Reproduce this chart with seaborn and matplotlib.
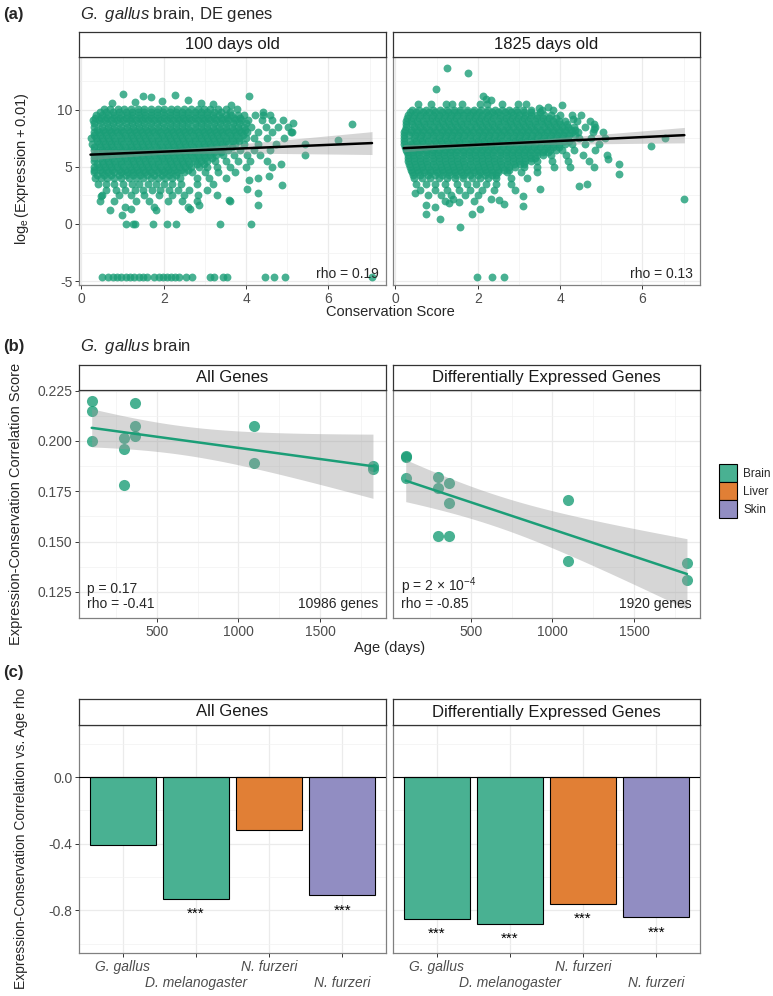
import numpy as np
import pandas as pd
import matplotlib
matplotlib.use('Agg')
import matplotlib.pyplot as plt
import seaborn as sns
from matplotlib.patches import Patch
from matplotlib.ticker import FormatStrFormatter

# ---------------- data ----------------
# (a) G. gallus brain, DE genes: conservation score vs log_e(expression + 0.01)
# points: (y, [x, ...])
young_rows = [
    (10.05, [0.55, 0.7, 0.88, 1.04, 1.2, 1.37, 1.52, 1.69, 1.85, 2.01, 2.17, 2.33, 2.5, 2.65, 2.82, 2.98, 3.13, 3.31, 3.52, 3.78]),
    (9.8, [0.45, 0.6, 0.76, 0.92, 1.07, 1.22, 1.38, 1.53, 1.68, 1.84, 1.99, 2.14, 2.3, 2.45, 2.6, 2.76, 2.91, 3.06, 3.22, 3.4, 3.6]),
    (9.55, [0.35, 0.5, 0.64, 0.8, 0.95, 1.1, 1.24, 1.4, 1.55, 1.7, 1.84, 2.0, 2.15, 2.3, 2.44, 2.6, 2.75, 2.9, 3.04, 3.2, 3.35, 3.5, 3.64, 3.8, 3.96, 4.22, 4.4, 4.58]),
    (9.3, [0.32, 0.47, 0.62, 0.78, 0.93, 1.08, 1.24, 1.39, 1.54, 1.7, 1.85, 2.0, 2.16, 2.31, 2.46, 2.62, 2.77, 2.92, 3.08, 3.23, 3.38, 3.54, 3.7, 3.86]),
    (9.05, [0.28, 0.42, 0.57, 0.72, 0.87, 1.02, 1.17, 1.32, 1.47, 1.62, 1.77, 1.92, 2.07, 2.22, 2.37, 2.52, 2.67, 2.82, 2.97, 3.12, 3.27, 3.42, 3.57, 3.72, 3.88, 4.05, 4.38, 4.62, 4.9]),
    (8.78, [0.3, 0.46, 0.61, 0.76, 0.92, 1.07, 1.22, 1.38, 1.53, 1.68, 1.84, 1.99, 2.14, 2.3, 2.45, 2.6, 2.76, 2.91, 3.06, 3.22, 3.37, 3.52, 3.68, 3.84, 4.0]),
    (8.5, [0.3, 0.5, 0.65, 0.8, 0.95, 1.1, 1.25, 1.4, 1.55, 1.7, 1.85, 2.0, 2.15, 2.3, 2.45, 2.6, 2.75, 2.9, 3.05, 3.2, 3.35, 3.5, 3.65, 3.8, 3.95, 4.12, 4.48, 4.78, 5.02]),
    (8.25, [0.37, 0.52, 0.67, 0.82, 0.97, 1.12, 1.27, 1.42, 1.57, 1.72, 1.87, 2.02, 2.17, 2.32, 2.47, 2.62, 2.77, 2.92, 3.07, 3.22, 3.37, 3.52, 3.67, 3.82, 3.97]),
    (8.0, [0.3, 0.43, 0.57, 0.72, 0.87, 1.02, 1.17, 1.32, 1.47, 1.62, 1.77, 1.92, 2.07, 2.22, 2.37, 2.52, 2.67, 2.82, 2.97, 3.12, 3.27, 3.42, 3.57, 3.72, 3.87, 4.02, 4.3, 4.62, 5.12]),
    (7.75, [0.3, 0.45, 0.6, 0.75, 0.9, 1.05, 1.2, 1.35, 1.5, 1.65, 1.8, 1.95, 2.1, 2.25, 2.4, 2.55, 2.7, 2.85, 3.0, 3.15, 3.3, 3.45, 3.6, 3.75, 3.92]),
    (7.5, [0.22, 0.36, 0.5, 0.65, 0.8, 0.95, 1.1, 1.25, 1.4, 1.55, 1.7, 1.85, 2.0, 2.15, 2.3, 2.45, 2.6, 2.75, 2.9, 3.05, 3.2, 3.35, 3.5, 3.65, 3.82, 4.0, 4.2, 4.52, 4.92]),
    (7.25, [0.37, 0.52, 0.67, 0.82, 0.97, 1.12, 1.27, 1.42, 1.57, 1.72, 1.87, 2.02, 2.17, 2.32, 2.47, 2.62, 2.77, 2.92, 3.07, 3.22, 3.37, 3.52, 3.67, 3.84]),
    (7.0, [0.25, 0.43, 0.57, 0.72, 0.87, 1.02, 1.17, 1.32, 1.47, 1.62, 1.77, 1.92, 2.07, 2.22, 2.37, 2.52, 2.67, 2.82, 2.97, 3.12, 3.27, 3.42, 3.57, 3.74, 3.95, 4.3, 4.72]),
    (6.75, [0.3, 0.45, 0.6, 0.75, 0.9, 1.05, 1.2, 1.35, 1.5, 1.65, 1.8, 1.95, 2.1, 2.25, 2.4, 2.55, 2.7, 2.85, 3.0, 3.15, 3.3, 3.47, 3.66]),
    (6.5, [0.3, 0.5, 0.65, 0.8, 0.95, 1.1, 1.25, 1.4, 1.55, 1.7, 1.85, 2.0, 2.15, 2.3, 2.45, 2.6, 2.75, 2.9, 3.05, 3.2, 3.36, 3.55, 3.86, 4.2, 4.58]),
    (6.25, [0.37, 0.52, 0.67, 0.82, 0.97, 1.12, 1.27, 1.42, 1.57, 1.72, 1.87, 2.02, 2.17, 2.32, 2.47, 2.62, 2.77, 2.92, 3.07, 3.22, 3.4]),
    (6.0, [0.3, 0.43, 0.57, 0.72, 0.87, 1.02, 1.17, 1.32, 1.47, 1.62, 1.77, 1.92, 2.07, 2.22, 2.37, 2.52, 2.67, 2.82, 2.97, 3.12, 3.28, 3.45, 3.7, 4.02, 4.35]),
    (5.75, [0.3, 0.45, 0.6, 0.75, 0.9, 1.05, 1.2, 1.35, 1.5, 1.65, 1.8, 1.95, 2.1, 2.25, 2.4, 2.55, 2.7, 2.85, 3.0, 3.16]),
    (5.5, [0.3, 0.5, 0.65, 0.8, 0.95, 1.1, 1.25, 1.4, 1.55, 1.7, 1.85, 2.0, 2.15, 2.3, 2.45, 2.6, 2.75, 2.9, 3.06, 3.25, 3.5, 3.8, 4.1, 4.5]),
    (5.25, [0.37, 0.52, 0.67, 0.82, 0.97, 1.12, 1.27, 1.42, 1.57, 1.72, 1.87, 2.02, 2.17, 2.32, 2.47, 2.62, 2.8, 2.98]),
    (5.0, [0.3, 0.43, 0.57, 0.72, 0.87, 1.02, 1.17, 1.32, 1.47, 1.62, 1.77, 1.92, 2.07, 2.22, 2.37, 2.52, 2.67, 2.85, 3.05, 3.3, 3.6, 4.0, 4.62]),
    (4.75, [0.3, 0.45, 0.6, 0.75, 0.9, 1.05, 1.2, 1.35, 1.5, 1.65, 1.8, 1.95, 2.1, 2.25, 2.42, 2.6]),
    (4.5, [0.3, 0.5, 0.65, 0.8, 0.95, 1.1, 1.25, 1.4, 1.55, 1.7, 1.85, 2.0, 2.15, 2.32, 2.5, 2.68, 3.0, 3.32, 3.72]),
    (4.25, [0.37, 0.55, 0.72, 0.9, 1.07, 1.25, 1.42, 1.6, 1.77, 1.95, 2.12, 2.3]),
    (4.0, [0.32, 0.47, 0.62, 0.8, 0.97, 1.15, 1.32, 1.5, 1.68, 1.85, 2.02, 2.2, 2.4, 2.8, 3.1, 3.5, 4.3]),
    (3.5, [0.4, 0.6, 0.8, 1.0, 1.22, 1.4, 1.62, 1.8, 2.0, 2.2, 2.42, 2.8, 3.2]),
    (3.0, [0.6, 0.85, 1.05, 1.3, 1.5, 1.72, 1.92, 2.12, 2.35, 2.62, 3.05]),
    (2.5, [0.5, 0.92, 1.2, 1.52, 1.88, 2.2, 2.5, 2.82, 3.3]),
    (2.0, [0.45, 0.8, 1.32, 1.65, 2.1, 2.45, 2.8, 3.62]),
    (1.5, [1.05, 1.76, 2.6]),
    (0.0, [1.09, 1.26, 1.29, 1.73, 2.09, 2.29, 3.37, 4.12]),
    (-4.61, [0.5, 0.64, 0.76, 0.86, 0.96, 1.07, 1.17, 1.27, 1.39, 1.49, 1.59, 1.77, 1.88, 1.97, 2.07,
             2.18, 2.27, 2.38, 2.54, 2.68, 3.12, 3.23, 3.45, 3.54, 4.47, 4.69, 4.95, 7.06]),
]
young_extra_x = [1.0, 1.49, 1.69, 2.28, 4.06, 0.75, 1.3, 1.95, 2.6, 2.9, 3.19, 3.63, 4.4, 5.13, 5.09,
                 5.42, 5.42, 6.23, 6.57, 0.7, 0.99, 1.21, 1.8, 2.63, 2.86, 0.47, 4.06, 4.02, 4.3, 4.3,
                 3.59, 4.87, 4.55, 4.85]
young_extra_y = [11.35, 11.17, 11.1, 11.3, 11.2, 10.6, 10.7, 10.75, 10.8, 10.55, 10.5, 10.4, 9.8, 8.8, 8.06,
                 6.99, 6.03, 7.31, 8.76, 1.22, 0.78, 1.28, 1.22, 1.28, 1.66, 2.42, 3.84, 3.1, 2.7, 1.7,
                 2.07, 3.4, 4.2, 5.25]

old_rows = [
    (10.5, [0.55, 0.86, 1.22, 1.38, 1.62, 2.05, 2.22, 2.58, 2.98, 3.18]),
    (10.0, [0.4, 0.58, 0.75, 0.92, 1.08, 1.25, 1.42, 1.58, 1.75, 1.92, 2.08, 2.25, 2.42, 2.58, 2.75, 2.92, 3.1, 3.3, 3.55, 3.82]),
    (9.75, [0.35, 0.5, 0.66, 0.82, 0.97, 1.12, 1.28, 1.43, 1.58, 1.74, 1.89, 2.04, 2.2, 2.35, 2.5, 2.66, 2.81, 2.96, 3.12, 3.3, 3.5]),
    (9.5, [0.3, 0.45, 0.6, 0.75, 0.9, 1.05, 1.2, 1.35, 1.5, 1.65, 1.8, 1.95, 2.1, 2.25, 2.4, 2.55, 2.7, 2.85, 3.0, 3.15, 3.3, 3.45, 3.6, 3.78, 4.0, 4.3, 4.52]),
    (9.25, [0.28, 0.43, 0.58, 0.73, 0.88, 1.03, 1.18, 1.33, 1.48, 1.63, 1.78, 1.93, 2.08, 2.23, 2.38, 2.53, 2.68, 2.83, 2.98, 3.13, 3.28, 3.43, 3.58, 3.73, 3.9]),
    (9.0, [0.25, 0.38, 0.53, 0.68, 0.83, 0.98, 1.13, 1.28, 1.43, 1.58, 1.73, 1.88, 2.03, 2.18, 2.33, 2.48, 2.63, 2.78, 2.93, 3.08, 3.23, 3.38, 3.53, 3.68, 3.83, 3.98, 4.12, 4.42, 4.72]),
    (8.75, [0.25, 0.4, 0.55, 0.7, 0.85, 1.0, 1.15, 1.3, 1.45, 1.6, 1.75, 1.9, 2.05, 2.2, 2.35, 2.5, 2.65, 2.8, 2.95, 3.1, 3.25, 3.4, 3.55, 3.7, 3.85, 4.0, 4.18]),
    (8.5, [0.25, 0.45, 0.6, 0.75, 0.9, 1.05, 1.2, 1.35, 1.5, 1.65, 1.8, 1.95, 2.1, 2.25, 2.4, 2.55, 2.7, 2.85, 3.0, 3.15, 3.3, 3.45, 3.6, 3.75, 3.9, 4.05, 4.2, 4.35, 4.6, 4.86]),
    (8.25, [0.22, 0.37, 0.52, 0.67, 0.82, 0.97, 1.12, 1.27, 1.42, 1.57, 1.72, 1.87, 2.02, 2.17, 2.32, 2.47, 2.62, 2.77, 2.92, 3.07, 3.22, 3.37, 3.52, 3.67, 3.82, 3.97, 4.12, 4.27, 4.36]),
    (8.0, [0.2, 0.38, 0.53, 0.68, 0.83, 0.98, 1.13, 1.28, 1.43, 1.58, 1.73, 1.88, 2.03, 2.18, 2.33, 2.48, 2.63, 2.78, 2.93, 3.08, 3.23, 3.38, 3.53, 3.68, 3.83, 3.98, 4.13, 4.28, 4.43, 4.8, 5.05]),
    (7.75, [0.2, 0.32, 0.47, 0.62, 0.77, 0.92, 1.07, 1.22, 1.37, 1.52, 1.67, 1.82, 1.97, 2.12, 2.27, 2.42, 2.57, 2.72, 2.87, 3.02, 3.17, 3.32, 3.47, 3.62, 3.77, 3.92, 4.07, 4.22, 4.36]),
    (7.5, [0.2, 0.45, 0.6, 0.75, 0.9, 1.05, 1.2, 1.35, 1.5, 1.65, 1.8, 1.95, 2.1, 2.25, 2.4, 2.55, 2.7, 2.85, 3.0, 3.15, 3.3, 3.45, 3.6, 3.75, 3.9, 4.05, 4.2, 4.45, 4.75, 5.1]),
    (7.25, [0.2, 0.35, 0.5, 0.65, 0.8, 0.95, 1.1, 1.25, 1.4, 1.55, 1.7, 1.85, 2.0, 2.15, 2.3, 2.45, 2.6, 2.75, 2.9, 3.05, 3.2, 3.35, 3.5, 3.65, 3.8, 3.95, 4.1, 4.22]),
    (7.0, [0.2, 0.38, 0.53, 0.68, 0.83, 0.98, 1.13, 1.28, 1.43, 1.58, 1.73, 1.88, 2.03, 2.18, 2.33, 2.48, 2.63, 2.78, 2.93, 3.08, 3.23, 3.38, 3.53, 3.68, 3.83, 3.98, 4.13, 4.28, 4.6, 4.95]),
    (6.75, [0.22, 0.37, 0.52, 0.67, 0.82, 0.97, 1.12, 1.27, 1.42, 1.57, 1.72, 1.87, 2.02, 2.17, 2.32, 2.47, 2.62, 2.77, 2.92, 3.07, 3.22, 3.37, 3.52, 3.67, 3.82, 3.98]),
    (6.5, [0.25, 0.45, 0.6, 0.75, 0.9, 1.05, 1.2, 1.35, 1.5, 1.65, 1.8, 1.95, 2.1, 2.25, 2.4, 2.55, 2.7, 2.85, 3.0, 3.15, 3.3, 3.45, 3.6, 3.75, 3.9, 4.05, 4.35, 4.85]),
    (6.25, [0.28, 0.43, 0.58, 0.73, 0.88, 1.03, 1.18, 1.33, 1.48, 1.63, 1.78, 1.93, 2.08, 2.23, 2.38, 2.53, 2.68, 2.83, 2.98, 3.13, 3.28, 3.43, 3.58, 3.7]),
    (6.0, [0.3, 0.43, 0.58, 0.73, 0.88, 1.03, 1.18, 1.33, 1.48, 1.63, 1.78, 1.93, 2.08, 2.23, 2.38, 2.53, 2.68, 2.83, 2.98, 3.13, 3.28, 3.43, 3.58, 3.78, 4.15, 4.55, 5.15]),
    (5.75, [0.3, 0.45, 0.6, 0.75, 0.9, 1.05, 1.2, 1.35, 1.5, 1.65, 1.8, 1.95, 2.1, 2.25, 2.4, 2.55, 2.7, 2.85, 3.0, 3.15, 3.3, 3.4]),
    (5.5, [0.3, 0.45, 0.6, 0.75, 0.9, 1.05, 1.2, 1.35, 1.5, 1.65, 1.8, 1.95, 2.1, 2.25, 2.4, 2.55, 2.7, 2.85, 3.0, 3.15, 3.3, 3.45, 3.8, 4.2, 4.7]),
    (5.25, [0.32, 0.47, 0.62, 0.77, 0.92, 1.07, 1.22, 1.37, 1.52, 1.67, 1.82, 1.97, 2.12, 2.27, 2.42, 2.57, 2.72, 2.87, 3.02, 3.12]),
    (5.0, [0.35, 0.5, 0.65, 0.8, 0.95, 1.1, 1.25, 1.4, 1.55, 1.7, 1.85, 2.0, 2.15, 2.3, 2.45, 2.6, 2.75, 2.9, 3.13, 3.45, 3.85, 4.25]),
    (4.75, [0.38, 0.53, 0.68, 0.83, 0.98, 1.13, 1.28, 1.43, 1.58, 1.73, 1.88, 2.03, 2.18, 2.33, 2.48, 2.63, 2.75]),
    (4.5, [0.4, 0.55, 0.7, 0.85, 1.0, 1.15, 1.3, 1.45, 1.6, 1.75, 1.9, 2.05, 2.2, 2.35, 2.5, 2.7, 3.05, 3.45]),
    (4.25, [0.42, 0.6, 0.78, 0.95, 1.12, 1.3, 1.48, 1.65, 1.82, 2.0, 2.18, 2.35, 2.45]),
    (4.0, [0.45, 0.65, 0.85, 1.05, 1.25, 1.45, 1.65, 1.85, 2.05, 2.25, 2.45, 2.8, 3.2]),
    (3.5, [0.5, 0.75, 0.95, 1.2, 1.5, 1.75, 1.95, 2.2, 2.45, 2.8]),
    (3.0, [0.6, 0.95, 1.25, 1.55, 1.8, 2.1, 2.4, 2.9]),
    (2.5, [0.8, 1.1, 1.35, 1.7, 2.0]),
    (2.0, [1.2, 1.9]),
    (-4.61, [1.98, 2.34, 2.63]),
]
old_extra_x = [1.25, 1.76, 0.98, 2.13, 2.33, 2.2, 3.48, 3.7, 4.05, 4.31, 4.83, 4.82, 5.16, 5.42, 5.42,
               4.83, 4.65, 4.45, 3.52, 3.09, 3.09, 2.63, 2.51, 2.32, 2.05, 1.85, 1.57, 1.09, 0.74, 0.74,
               0.96, 0.47, 7.02, 6.56, 6.21, 1.4, 1.55, 1.3]
old_extra_y = [13.62, 13.19, 11.82, 11.15, 10.8, 10.95, 10.16, 10.2, 10.36, 9.2, 8.76, 8.33, 5.7, 5.27, 4.41,
               4.98, 3.5, 3.36, 3.1, 2.45, 1.58, 1.78, 2.1, 2.2, 1.33, 0.84, -0.26, 0.43, 0.84, 1.69,
               1.48, 2.72, 2.18, 7.48, 6.81, 2.2, 1.9, 1.8]
facet_a = ['100 days old', '1825 days old']
rho_a = ['rho = 0.19', 'rho = 0.13']

# (b) G. gallus brain: expression-conservation correlation vs age
ages_all = [100, 100, 100, 300, 300, 300, 365, 365, 365, 1095, 1095, 1825, 1825]
corr_all = [0.2199, 0.2151, 0.2002, 0.2013, 0.1959, 0.1781, 0.2189, 0.2075, 0.2022, 0.2075, 0.1889, 0.1874, 0.1859]
ages_de = [100, 100, 100, 300, 300, 300, 365, 365, 365, 1095, 1095, 1825, 1825]
corr_de = [0.1925, 0.1922, 0.1816, 0.1823, 0.1767, 0.1528, 0.1791, 0.1689, 0.1528, 0.1705, 0.1401, 0.1392, 0.1308]
facet_b = ['All Genes', 'Differentially Expressed Genes']
stats_b = [('p = 0.17', 'rho = -0.41', '10986 genes'),
           (r'p = 2 $\times$ 10$^{-4}$', 'rho = -0.85', '1920 genes')]

# (c) rho of expression-conservation correlation vs age
species = ['G. gallus', 'D. melanogaster', 'N. furzeri', 'N. furzeri']
tissues = ['Brain', 'Brain', 'Liver', 'Skin']
rho_all = [-0.41, -0.73, -0.32, -0.71]
rho_de = [-0.85, -0.88, -0.76, -0.84]
stars_all = ['', '***', '', '***']
stars_de = ['***', '***', '***', '***']
tissue_colors = {'Brain': '#1B9E77', 'Liver': '#D95F02', 'Skin': '#7570B3'}

# ---------------- style ----------------
sns.set_theme(style='white')
plt.rcParams['font.family'] = ['Liberation Sans', 'DejaVu Sans']
plt.rcParams['mathtext.fontset'] = 'custom'
plt.rcParams['mathtext.rm'] = 'Liberation Sans'
plt.rcParams['mathtext.it'] = 'Liberation Sans:italic'
plt.rcParams['axes.unicode_minus'] = False

W, H = 773, 996
fig = plt.figure(figsize=(W / 100, H / 100), dpi=100)
fig.patch.set_facecolor('white')


def box(x0, y0, x1, y1):
    return [x0 / W, 1 - y1 / H, (x1 - x0) / W, (y1 - y0) / H]


def ftext(x, y, s, **kw):
    fig.text(x / W, 1 - y / H, s, **kw)


def blend(c, a=0.8):
    r, g, b = matplotlib.colors.to_rgb(c)
    return (r * a + 1 - a, g * a + 1 - a, b * a + 1 - a)


def ols_band(ax, x, y, tcrit):
    # 95% confidence ribbon of the linear fit, like geom_smooth(method = "lm")
    x = np.asarray(x, float)
    y = np.asarray(y, float)
    n = len(x)
    b1, b0 = np.polyfit(x, y, 1)
    resid = y - (b0 + b1 * x)
    s = np.sqrt(resid @ resid / (n - 2))
    grid = np.linspace(x.min(), x.max(), 100)
    se = s * np.sqrt(1 / n + (grid - x.mean()) ** 2 / ((x - x.mean()) ** 2).sum())
    fit = b0 + b1 * grid
    ax.fill_between(grid, fit - tcrit * se, fit + tcrit * se, color='#999999', alpha=0.4, lw=0)


def strip(x0, x1, y0, y1, label):
    sax = fig.add_axes(box(x0, y0, x1, y1))
    sax.set_xticks([])
    sax.set_yticks([])
    sax.set_facecolor('white')
    for s in sax.spines.values():
        s.set_color('#333333')
        s.set_linewidth(0.9)
    sax.text(0.5, 0.5, label, ha='center', va='center', fontsize=12, color='#1A1A1A',
             transform=sax.transAxes)


def style(ax, xmaj, xmin, ymaj, ymin, left=True):
    ax.set_xticks(xmaj)
    ax.set_xticks(xmin, minor=True)
    ax.set_yticks(ymaj)
    ax.set_yticks(ymin, minor=True)
    ax.grid(which='major', color='#EBEBEB', lw=0.9)
    ax.grid(which='minor', color='#F2F2F2', lw=0.5)
    ax.set_axisbelow(True)
    for s in ax.spines.values():
        s.set_color('#808080')
        s.set_linewidth(0.9)
    ax.tick_params(which='major', length=2.75, width=0.7, color='#333333', labelsize=10,
                   labelcolor='#4D4D4D', pad=2, bottom=True, left=True)
    ax.tick_params(which='minor', length=0)
    if not left:
        ax.tick_params(axis='y', which='both', left=False, labelleft=False)
    ax.set_xlabel('')
    ax.set_ylabel('')


# ---------------- (a) ----------------
cols = [(79, 386), (393, 700)]
clouds = [(young_rows, young_extra_x, young_extra_y), (old_rows, old_extra_x, old_extra_y)]
for i, (rows, ex, ey) in enumerate(clouds):
    xs, ys = [], []
    for yv, row in rows:
        xs += row
        ys += [yv] * len(row)
    df = pd.DataFrame({'score': xs + ex, 'expr': ys + ey})
    ax = fig.add_axes(box(cols[i][0], 57, cols[i][1], 285))
    sns.scatterplot(data=df, x='score', y='expr', color='#1B9E77', alpha=0.8, s=32,
                    linewidth=0, ax=ax)
    ols_band(ax, df['score'], df['expr'], 1.97)
    sns.regplot(data=df, x='score', y='expr', scatter=False, color='black', ci=None,
                line_kws={'lw': 1.8}, ax=ax)
    ax.set_xlim(-0.06, 7.40)
    ax.set_ylim(-5.33, 14.59)
    style(ax, [0, 2, 4, 6], [1, 3, 5, 7], [-5, 0, 5, 10], [-2.5, 2.5, 7.5, 12.5], left=(i == 0))
    strip(cols[i][0], cols[i][1], 32, 57, facet_a[i])
    ftext(cols[i][1] - 7, 274, rho_a[i], ha='right', va='center', fontsize=10)

ftext(3, 14, '(a)', fontsize=12, fontweight='bold', va='center')
ftext(80, 14, r'$\it{G.\ gallus}$ brain, DE genes', fontsize=12, va='center')
ftext(22, 169, r'$\log_{\mathrm{e}}\left(\mathrm{Expression}+0.01\right)$', rotation=90,
      ha='center', va='center', fontsize=10.5)
ftext(390, 312, 'Conservation Score', ha='center', va='center', fontsize=10.5)

# ---------------- (b) ----------------
series_b = [(ages_all, corr_all), (ages_de, corr_de)]
for i, (ag, cr) in enumerate(series_b):
    df = pd.DataFrame({'age': ag, 'corr': cr})
    ax = fig.add_axes(box(cols[i][0], 390, cols[i][1], 618))
    sns.scatterplot(data=df, x='age', y='corr', color='#1B9E77', alpha=0.8, s=64,
                    linewidth=0, ax=ax)
    ols_band(ax, df['age'], df['corr'], 2.201)
    sns.regplot(data=df, x='age', y='corr', scatter=False, color='#1B9E77', ci=None,
                line_kws={'lw': 1.8}, ax=ax)
    ax.set_xlim(22, 1905)
    ax.set_ylim(0.112, 0.2253)
    style(ax, [500, 1000, 1500], [250, 750, 1250, 1750],
          [0.125, 0.150, 0.175, 0.200, 0.225], [0.1375, 0.1625, 0.1875, 0.2125], left=(i == 0))
    ax.yaxis.set_major_formatter(FormatStrFormatter('%.3f'))
    strip(cols[i][0], cols[i][1], 365, 390, facet_b[i])
    p_txt, r_txt, n_txt = stats_b[i]
    ftext(cols[i][0] + 8, 589 if i == 0 else 586, p_txt, ha='left', va='center', fontsize=10)
    ftext(cols[i][0] + 8, 604, r_txt, ha='left', va='center', fontsize=10)
    ftext(cols[i][1] - 8, 604, n_txt, ha='right', va='center', fontsize=10)

ftext(3, 347, '(b)', fontsize=12, fontweight='bold', va='center')
ftext(80, 347, r'$\it{G.\ gallus}$ brain', fontsize=12, va='center')
ftext(16, 504, 'Expression-Conservation Correlation Score', rotation=90,
      ha='center', va='center', fontsize=10.5)
ftext(390, 648, 'Age (days)', ha='center', va='center', fontsize=10.5)

# ---------------- (c) ----------------
keys = [f'{s} {t}' for s, t in zip(species, tissues)]
fills = {t: blend(c) for t, c in tissue_colors.items()}
for i, (rho, stars) in enumerate([(rho_all, stars_all), (rho_de, stars_de)]):
    df = pd.DataFrame({'key': keys, 'rho': rho, 'tissue': tissues})
    ax = fig.add_axes(box(cols[i][0], 725, cols[i][1], 953))
    sns.barplot(data=df, x='key', y='rho', hue='tissue', palette=fills, dodge=False,
                width=0.9, saturation=1, edgecolor='black', linewidth=0.8, legend=False, ax=ax)
    ax.axhline(0, color='black', lw=0.8, zorder=3)
    for k, (r, s) in enumerate(zip(rho, stars)):
        if s:
            ax.text(k, r - 0.05, s, ha='center', va='top', fontsize=11, color='black')
    ax.set_xlim(-0.6, 3.6)
    ax.set_ylim(-1.056, 0.312)
    style(ax, [0, 1, 2, 3], [], [0.0, -0.4, -0.8], [0.2, -0.2, -0.6, -1.0], left=(i == 0))
    ax.set_xticklabels(species, fontstyle='italic')
    # alternate the species names on two rows, as in the original
    for k, tick in enumerate(ax.xaxis.get_major_ticks()):
        if k % 2 == 1:
            tick.set_pad(13.5)
    ax.yaxis.set_major_formatter(FormatStrFormatter('%.1f'))
    strip(cols[i][0], cols[i][1], 699, 725, facet_b[i])

ftext(3, 672, '(c)', fontsize=12, fontweight='bold', va='center')
ftext(21, 838, 'Expression-Conservation Correlation vs. Age rho', rotation=90,
      ha='center', va='center', fontsize=10)

handles = [Patch(facecolor=fills[t], edgecolor='black', lw=0.8, label=t) for t in tissue_colors]
fig.legend(handles=handles, loc='center left', bbox_to_anchor=(719 / W, 1 - 491 / H),
           frameon=False, fontsize=8.5, handlelength=1.55, handleheight=2.0, labelspacing=0.0,
           handletextpad=0.5, borderpad=0, borderaxespad=0)

fig.savefig('out.png', dpi=100)
